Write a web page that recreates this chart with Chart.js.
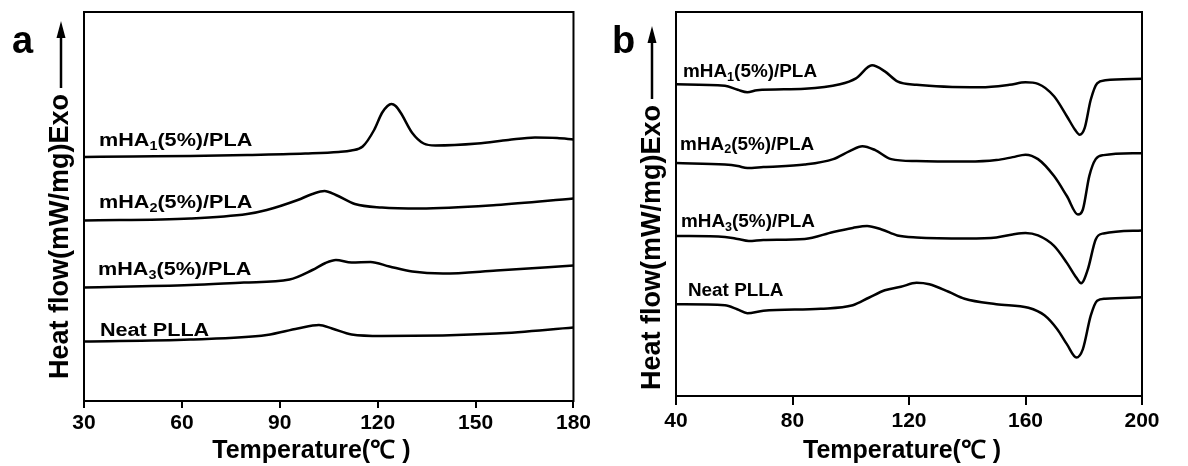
<!DOCTYPE html>
<html>
<head>
<meta charset="utf-8">
<script src="https://cdn.jsdelivr.net/npm/chart.js@4.4.1/dist/chart.umd.min.js"></script>
<style>
    body { margin: 0; background: #fff; }
    #wrap { position: relative; width: 1188px; height: 466px; }
    canvas { position: absolute; top: 0; }
</style>
</head>
<body>
<div id="wrap">
    <canvas id="chartA" width="594" height="466" style="left:0;width:594px;height:466px"></canvas>
    <canvas id="chartB" width="594" height="466" style="left:594px;width:594px;height:466px"></canvas>
</div>
<script>
// panel a (DSC, 30-180 C), heat flow in a.u.
const aTemp1 = [30, 45, 62.6, 80, 97.8, 108, 111.9, 115.4, 118.9, 121.3, 123, 124.2, 125.5, 127.1, 130.6, 134.1, 137.7, 150.6, 160, 168.2, 175, 180];
const aFlow1 = [4.88, 4.89, 4.90, 4.92, 4.95, 4.98, 5.01, 5.09, 5.42, 5.76, 5.90, 5.94, 5.90, 5.76, 5.36, 5.15, 5.11, 5.15, 5.22, 5.27, 5.26, 5.23];
const aTemp2 = [30, 62.6, 80, 86, 95.5, 100, 103.7, 107.2, 113, 121.3, 133, 156.4, 180];
const aFlow2 = [3.61, 3.65, 3.74, 3.82, 4.02, 4.14, 4.20, 4.12, 3.94, 3.87, 3.85, 3.92, 4.05];
const aTemp3 = [30, 62.6, 79, 93, 100, 104, 107.2, 112, 117.8, 123.6, 130.6, 140, 156.4, 180];
const aFlow3 = [2.27, 2.32, 2.37, 2.43, 2.62, 2.76, 2.82, 2.77, 2.78, 2.69, 2.59, 2.55, 2.61, 2.71];
const aTemp4 = [30, 62.6, 86, 95.5, 102, 106, 112, 121.3, 156.4, 180];
const aFlow4 = [1.19, 1.23, 1.32, 1.45, 1.52, 1.45, 1.33, 1.30, 1.35, 1.47];

// panel b (40-200 C)
const bTemp1 = [40, 56.8, 61.2, 64.5, 67.8, 84.2, 96.3, 101.8, 107.3, 111.7, 116, 122.6, 144.6, 154.5, 160, 164.3, 169.8, 174.2, 177, 178.6, 180.3, 182.4, 184.6, 187.4, 200];
const bFlow1 = [6.25, 6.22, 6.14, 6.09, 6.13, 6.16, 6.25, 6.37, 6.63, 6.51, 6.31, 6.24, 6.19, 6.24, 6.29, 6.26, 6.01, 5.61, 5.34, 5.24, 5.37, 5.94, 6.27, 6.33, 6.36];
const bTemp2 = [40, 56.8, 61.2, 64.5, 70, 84.2, 94, 99.6, 104, 108.4, 113.9, 122.6, 140, 150, 155.6, 160, 164.3, 169.8, 174.2, 178, 179.7, 181.9, 184.1, 186.8, 200];
const bFlow2 = [4.67, 4.64, 4.61, 4.57, 4.59, 4.64, 4.75, 4.91, 5.01, 4.93, 4.75, 4.71, 4.70, 4.73, 4.79, 4.84, 4.75, 4.41, 4.01, 3.64, 3.74, 4.41, 4.75, 4.83, 4.87];
const bTemp3 = [40, 56.8, 61.2, 65, 70, 84.2, 94, 100.7, 105.6, 110.6, 116, 122.6, 140, 150, 155.6, 160, 164.3, 169.8, 174.2, 177.5, 179.1, 181.4, 184.1, 186.8, 200];
const bFlow3 = [3.21, 3.19, 3.15, 3.11, 3.13, 3.15, 3.29, 3.37, 3.41, 3.34, 3.22, 3.18, 3.16, 3.18, 3.24, 3.27, 3.22, 3.01, 2.67, 2.37, 2.26, 2.54, 3.14, 3.26, 3.32];
const bTemp4 = [40, 56.8, 61, 64.5, 70, 89.7, 100.7, 106.2, 111.7, 117.2, 122.6, 127, 133.6, 139.1, 150, 161, 166.5, 170.9, 174.2, 177.5, 179.7, 182.4, 184.6, 187.4, 200];
const bFlow4 = [1.84, 1.82, 1.74, 1.66, 1.71, 1.75, 1.82, 1.97, 2.12, 2.19, 2.27, 2.24, 2.09, 1.95, 1.84, 1.77, 1.62, 1.34, 1.04, 0.77, 0.94, 1.61, 1.91, 1.95, 1.98];

// curve labels: name, subscript, rest, anchor (temperature, heat flow)
const labelName = ["mHA", "mHA", "mHA", "Neat PLLA"];
const labelSub = ["1", "2", "3", ""];
const labelRest = ["(5%)/PLA", "(5%)/PLA", "(5%)/PLA", ""];
const aLabelT = [34.6, 34.6, 34.3, 34.9];
const aLabelV = [5.20, 3.96, 2.62, 1.40];
const bLabelT = [42.4, 41.4, 41.7, 44.1];
const bLabelV = [6.50, 5.04, 3.48, 2.10];

const aTicks = [30, 60, 90, 120, 150, 180];
const bTicks = [40, 80, 120, 160, 200];
const xTitle = "Temperature(\u2103 )";
const yTitle = "Heat flow(mW/mg)Exo";

const FONT = '"Liberation Sans", Arial, sans-serif';

function toPoints(temps, flows) {
    return temps.map((t, i) => ({ x: t, y: flows[i] }));
}

function curve(temps, flows) {
    return {
        data: toPoints(temps, flows),
        borderColor: "#000",
        borderWidth: 2.5,
        pointRadius: 0,
        cubicInterpolationMode: "monotone",
        fill: false
    };
}

// frame, panel letter, rotated y title with arrow, curve labels
const decor = {
    id: "decor",
    afterDraw(chart, args, o) {
        const ctx = chart.ctx, area = chart.chartArea;
        ctx.save();
        ctx.strokeStyle = "#000";
        ctx.fillStyle = "#000";
        ctx.lineWidth = 2;
        ctx.strokeRect(area.left, area.top, area.right - area.left, area.bottom - area.top);

        ctx.textAlign = "left";
        ctx.textBaseline = "alphabetic";
        ctx.font = "bold 38px " + FONT;
        ctx.fillText(o.letter, o.letterX, o.letterY);

        ctx.save();
        ctx.translate(o.titleX, o.titleBottom);
        ctx.rotate(-Math.PI / 2);
        ctx.font = "bold 27px " + FONT;
        ctx.fillText(yTitle, 0, 0);
        const w = ctx.measureText(yTitle).width;
        ctx.restore();

        ctx.lineWidth = 2.5;
        ctx.beginPath();
        ctx.moveTo(o.arrowX, o.titleBottom - w - 6);
        ctx.lineTo(o.arrowX, o.arrowTop + 12);
        ctx.stroke();
        ctx.beginPath();
        ctx.moveTo(o.arrowX, o.arrowTop);
        ctx.lineTo(o.arrowX - 4.5, o.arrowTop + 17);
        ctx.lineTo(o.arrowX + 4.5, o.arrowTop + 17);
        ctx.closePath();
        ctx.fill();

        const xs = chart.scales.x, ys = chart.scales.y;
        ctx.textBaseline = "middle";
        o.labelT.forEach((t, i) => {
            ctx.save();
            ctx.translate(xs.getPixelForValue(t), ys.getPixelForValue(o.labelV[i]));
            ctx.scale(o.stretch, 1);
            ctx.font = "bold " + o.size + "px " + FONT;
            ctx.fillText(labelName[i], 0, 0);
            let x = ctx.measureText(labelName[i]).width;
            if (labelSub[i]) {
                ctx.font = "bold " + Math.round(o.size * 0.65) + "px " + FONT;
                ctx.fillText(labelSub[i], x, o.size * 0.3);
                x += ctx.measureText(labelSub[i]).width;
                ctx.font = "bold " + o.size + "px " + FONT;
                ctx.fillText(labelRest[i], x, 0);
            }
            ctx.restore();
        });
        ctx.restore();
    }
};

function makeChart(id, datasets, xMin, xMax, step, yMax, pad, axisH, tickLen, tickPad, titleText, deco) {
    return new Chart(document.getElementById(id).getContext("2d"), {
        type: "line",
        data: { datasets: datasets },
        options: {
            responsive: false,
            animation: false,
            layout: { padding: pad },
            plugins: {
                legend: { display: false },
                tooltip: { enabled: false },
                decor: deco
            },
            scales: {
                x: {
                    type: "linear",
                    min: xMin,
                    max: xMax,
                    afterFit: s => { s.height = axisH; },
                    ticks: {
                        stepSize: step,
                        color: "#000",
                        padding: tickPad,
                        maxRotation: 0,
                        font: { family: FONT, size: 21, weight: "bold" }
                    },
                    grid: {
                        drawOnChartArea: false,
                        drawTicks: true,
                        tickLength: tickLen,
                        color: "#000",
                        lineWidth: 2
                    },
                    border: { color: "#000", width: 2 },
                    title: {
                        display: true,
                        text: titleText,
                        color: "#000",
                        padding: { top: 0, bottom: 0 },
                        font: { family: FONT, size: 25, weight: "bold" }
                    }
                },
                y: { display: false, min: 0, max: yMax }
            }
        },
        plugins: [decor]
    });
}

makeChart("chartA",
    [curve(aTemp1, aFlow1), curve(aTemp2, aFlow2), curve(aTemp3, aFlow3), curve(aTemp4, aFlow4)],
    aTicks[0], aTicks[aTicks.length - 1], 30, 7.78,
    { left: 84, right: 19, top: 12, bottom: 0 }, 65, 7, 3, xTitle + "     ",
    { letter: "a", letterX: 12, letterY: 53, titleX: 68, titleBottom: 379, arrowX: 61, arrowTop: 21,
      labelT: aLabelT, labelV: aLabelV, size: 18, stretch: 1.2 });

makeChart("chartB",
    [curve(bTemp1, bFlow1), curve(bTemp2, bFlow2), curve(bTemp3, bFlow3), curve(bTemp4, bFlow4)],
    bTicks[0], bTicks[bTicks.length - 1], 40, 7.7,
    { left: 82, right: 46, top: 12, bottom: 0 }, 70, 9, 4, xTitle + "  ",
    { letter: "b", letterX: 18, letterY: 53, titleX: 66, titleBottom: 390, arrowX: 58, arrowTop: 26,
      labelT: bLabelT, labelV: bLabelV, size: 18, stretch: 1.05 });
</script>
</body>
</html>
